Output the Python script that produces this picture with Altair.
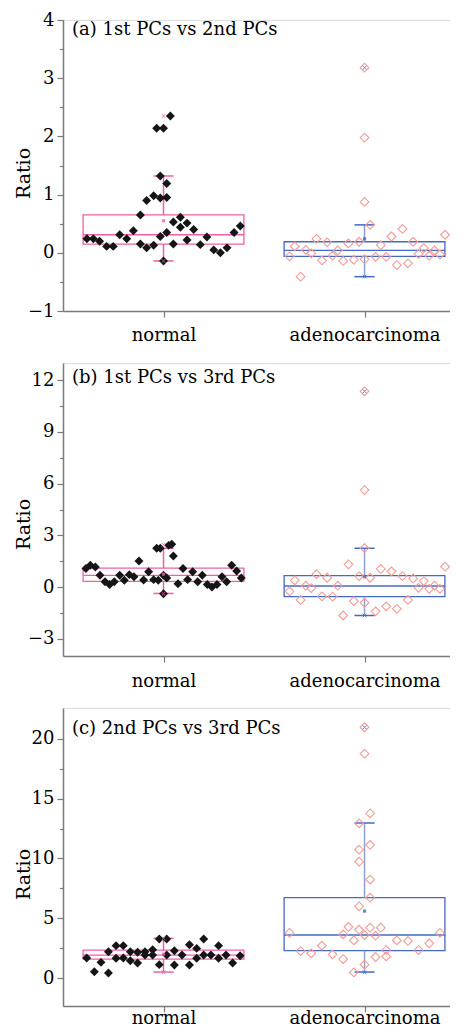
import altair as alt
import pandas as pd

GROUPS = ["normal", "adenocarcinoma"]
PANEL_TITLES = ["(a) 1st PCs vs 2nd PCs", "(b) 1st PCs vs 3rd PCs", "(c) 2nd PCs vs 3rd PCs"]
Y_TITLE = "Ratio"

# ---------- panel (a) ----------
A_NORMAL = [0.24, 0.24, 0.20, 0.11, 0.11, 0.31, 0.24, 0.38, 0.65, 0.15, 0.90, 0.085, 0.98, 0.13,
            2.14, 0.94, 1.32, 0.28, 2.14, -0.14, 0.95, 0.35, 1.19, 2.35, 0.53, 0.15, 0.61, 0.44,
            0.51, 0.22, 0.40, 0.14, 0.27, 0.05, 0.0, 0.085, 0.35, 0.46]
A_NORMAL_JIT = [-0.381, -0.349, -0.318, -0.283, -0.250, -0.218, -0.183, -0.150, -0.115, -0.115,
                -0.084, -0.084, -0.049, -0.049, -0.034, -0.016, -0.016, -0.016, 0.0, 0.0, 0.016,
                0.016, 0.016, 0.034, 0.049, 0.049, 0.084, 0.084, 0.117, 0.117, 0.150, 0.183,
                0.216, 0.250, 0.283, 0.316, 0.351, 0.382]
A_ADENO = [-0.06, 0.11, -0.41, 0.05, -0.01, 0.24, -0.13, 0.18, -0.05, 0.04, -0.14, 0.16, -0.12,
           0.19, 3.18, 1.98, 0.875, -0.11, 0.48, -0.07, 0.13, -0.07, 0.28, -0.21, 0.41, -0.18,
           0.19, -0.02, 0.08, -0.05, 0.04, -0.03, 0.31]
# ---------- panel (b) ----------
B_NORMAL = [1.08, 1.26, 1.16, 0.68, 0.31, 0.15, 0.31, 0.68, 0.39, 0.72, 0.60, 1.51, 0.41, 0.89,
            0.43, 2.25, 0.39, 2.25, 0.68, -0.39, 0.52, 2.42, 2.48, 1.80, 0.19, 1.08, 0.43, 0.89,
            0.31, 0.68, 0.15, 0.0, 0.15, 0.60, 0.31, 1.26, 0.93, 0.52]
B_NORMAL_JIT = [-0.386, -0.364, -0.339, -0.316, -0.291, -0.268, -0.245, -0.218, -0.195, -0.170,
                -0.147, -0.122, -0.099, -0.074, -0.049, -0.034, -0.026, -0.016, 0.0, 0.0, 0.016,
                0.026, 0.041, 0.049, 0.072, 0.097, 0.120, 0.145, 0.170, 0.193, 0.218, 0.241,
                0.266, 0.291, 0.314, 0.339, 0.364, 0.387]
B_ADENO = [-0.25, 0.39, -0.75, 0.08, -0.06, 0.75, -0.54, 0.54, -0.56, 0.08, -1.65, 1.32, -0.81,
           0.64, 11.36, 5.63, 2.26, -0.91, 0.54, -1.41, 1.05, -1.12, 0.91, -1.26, 0.64, -0.75,
           0.50, -0.04, 0.35, -0.10, 0.08, -0.10, 1.18]
AB_ADENO_JIT = [-0.373, -0.347, -0.318, -0.292, -0.265, -0.239, -0.212, -0.186, -0.159, -0.133,
                -0.106, -0.080, -0.053, -0.027, 0.0, 0.0, 0.0, 0.0, 0.028, 0.055, 0.081, 0.108,
                0.134, 0.161, 0.189, 0.216, 0.242, 0.269, 0.295, 0.322, 0.348, 0.375, 0.401]
# ---------- panel (c) ----------
C_NORMAL = [1.67, 0.53, 1.31, 0.42, 2.20, 2.71, 1.65, 2.71, 1.67, 2.20, 1.45, 2.15, 1.26, 2.20,
            1.92, 2.37, 1.92, 3.26, 1.12, 3.26, 1.92, 2.29, 1.09, 1.92, 2.79, 1.09, 2.48, 1.65,
            3.26, 1.92, 1.92, 2.71, 1.65, 1.92, 1.26, 1.87]
C_NORMAL_JIT = [-0.382, -0.344, -0.311, -0.274, -0.274, -0.236, -0.236, -0.200, -0.200, -0.165,
                -0.165, -0.129, -0.129, -0.092, -0.092, -0.054, -0.054, -0.021, -0.021, 0.016,
                0.016, 0.054, 0.054, 0.092, 0.129, 0.129, 0.165, 0.165, 0.200, 0.200, 0.236,
                0.274, 0.274, 0.311, 0.344, 0.381]
C_ADENO = [3.77, 2.26, 2.06, 2.71, 1.98, 1.59, 3.65, 4.27, 3.15, 0.47, 12.94, 10.74, 9.73, 6.0,
           4.04, 20.98, 18.77, 3.60, 1.12, 13.78, 11.13, 8.23, 6.72, 4.21, 3.54, 1.76, 4.21,
           2.34, 1.81, 3.15, 3.10, 2.34, 2.90, 3.77]
C_ADENO_JIT = [-0.373, -0.318, -0.265, -0.212, -0.159, -0.106, -0.106, -0.080, -0.053, -0.053,
               -0.027, -0.027, -0.027, -0.027, -0.027, 0.0, 0.0, 0.0, 0.0, 0.028, 0.028, 0.028,
               0.028, 0.028, 0.055, 0.055, 0.081, 0.108, 0.108, 0.161, 0.216, 0.269, 0.322, 0.375]

# ---------- box statistics: [normal, adenocarcinoma] ----------
A_Q1, A_MED, A_Q3 = [0.15, -0.06], [0.31, 0.04], [0.65, 0.19]
A_WLO, A_WHI, A_MEAN = [-0.14, -0.41], [1.32, 0.48], [0.55, 0.24]
A_MIN, A_MAX = [-0.14, -0.41], [2.35, 3.18]

B_Q1, B_MED, B_Q3 = [0.33, -0.56], [0.68, 0.06], [1.10, 0.66]
B_WLO, B_WHI, B_MEAN = [-0.37, -1.65], [2.25, 2.25], [0.75, 0.60]
B_MIN, B_MAX = [-0.39, -1.65], [2.45, 11.36]

C_Q1, C_MED, C_Q3 = [1.58, 2.29], [1.92, 3.60], [2.33, 6.72]
C_WLO, C_WHI, C_MEAN = [0.50, 0.50], [3.32, 12.97], [2.00, 5.60]
C_MIN, C_MAX = [0.47, 0.47], [3.32, 20.98]

# ---------- axes ----------
A_YTICKS = [-1, -0.5, 0, 0.5, 1, 1.5, 2, 2.5, 3, 3.5, 4]
B_YTICKS = [-3, -1.5, 0, 1.5, 3, 4.5, 6, 7.5, 9, 10.5, 12]
C_YTICKS = [0, 2.5, 5, 7.5, 10, 12.5, 15, 17.5, 20]

PINK = "#EF5FA7"
BLUE = "#4668C5"
BLUE_LIGHT = "#8C9FDB"
SALMON = "#F29C95"
GRAY = "#7A7A7A"
FONT = "DejaVu Serif"
W = 398
X_DOMAIN = [-0.5, 1.48]


def panel(title, normal, normal_jit, adeno, adeno_jit, q1, med, q3, wlo, whi, mean, mn, mx,
          y_domain, y_ticks, major, height, label_pad, title_y, text_y):
    pts = pd.DataFrame({
        "group": [GROUPS[0]] * len(normal) + [GROUPS[1]] * len(adeno),
        "pos": [0] * len(normal) + [1] * len(adeno),
        "jit": list(normal_jit) + list(adeno_jit),
        "y": list(normal) + list(adeno),
    })
    box = pd.DataFrame({"group": GROUPS, "pos": [0, 1], "q1": q1, "med": med, "q3": q3,
                        "wlo": wlo, "whi": whi, "mean": mean, "mn": mn, "mx": mx})

    xscale = alt.Scale(domain=X_DOMAIN, nice=False, zero=False)
    xaxis = alt.Axis(values=[0, 1], title=None, grid=False,
                     labelExpr="['%s','%s'][datum.value]" % (GROUPS[0], GROUPS[1]),
                     labelFont=FONT, labelFontSize=18, labelColor="black", labelPadding=label_pad,
                     labelFlush=False, labelOverlap=False,
                     tickSize=6, tickColor=GRAY, tickWidth=1.2,
                     domainColor=GRAY, domainWidth=1.5)
    yscale = alt.Scale(domain=y_domain, nice=False, zero=False)
    yaxis = alt.Axis(values=y_ticks, title=Y_TITLE, grid=False, format="~g",
                     labelExpr="datum.value %% %s === 0 ? datum.label : ''" % major,
                     labelFont=FONT, labelFontSize=18, labelColor="black", labelPadding=3,
                     labelOverlap=False, labelFlush=False,
                     tickSize={"condition": {"test": "datum.value %% %s === 0" % major, "value": 6},
                               "value": 3.5},
                     tickColor=GRAY, tickWidth=1.2, domainColor=GRAY, domainWidth=1.5,
                     titleFont=FONT, titleFontSize=19, titleFontWeight="normal", titleColor="black",
                     titleAngle=270, titleX=-40, titleY=title_y, titleAlign="center",
                     titleBaseline="middle")

    def X(field):
        return alt.X(field, type="quantitative", scale=xscale, axis=xaxis)

    def Y(field):
        return alt.Y(field, type="quantitative", scale=yscale, axis=yaxis)

    grp_color = alt.condition("datum.group === '%s'" % GROUPS[0], alt.value(PINK), alt.value(BLUE))
    whisk_color = alt.condition("datum.group === '%s'" % GROUPS[0], alt.value(PINK),
                                alt.value(BLUE_LIGHT))

    b = alt.Chart(box).transform_calculate(
        xl="datum.pos - 0.4", xr="datum.pos + 0.4",
        cl="datum.pos - 0.05", cr="datum.pos + 0.05")

    rect = b.mark_rect(filled=False, strokeWidth=1.3).encode(
        x=X("xl"), x2="xr", y=Y("q1"), y2="q3", color=grp_color)
    median = b.mark_rule(strokeWidth=1.3).encode(x=X("xl"), x2="xr", y=Y("med"), color=grp_color)
    w_low = b.mark_rule(strokeWidth=1.5).encode(x=X("pos"), y=Y("wlo"), y2="q1", color=whisk_color)
    w_high = b.mark_rule(strokeWidth=1.5).encode(x=X("pos"), y=Y("q3"), y2="whi", color=whisk_color)
    cap_low = b.mark_rule(strokeWidth=1.5).encode(x=X("cl"), x2="cr", y=Y("wlo"), color=grp_color)
    cap_high = b.mark_rule(strokeWidth=1.5).encode(x=X("cl"), x2="cr", y=Y("whi"), color=grp_color)

    p = alt.Chart(pts).transform_calculate(xp="datum.pos + datum.jit")
    normal_pts = p.transform_filter("datum.pos === 0").mark_point(
        shape="diamond", filled=True, size=80, color="#151515", opacity=1).encode(
        x=X("xp"), y=Y("y"))
    adeno_pts = p.transform_filter("datum.pos === 1").mark_point(
        shape="diamond", filled=False, size=76, color=SALMON, strokeWidth=1.1, opacity=1).encode(
        x=X("xp"), y=Y("y"))

    mean_pt = b.mark_point(shape="square", filled=True, size=10, opacity=0.8).encode(
        x=X("pos"), y=Y("mean"), color=grp_color)
    xshape = "M-1,-1L1,1M-1,1L1,-1"
    max_pt = b.mark_point(shape=xshape, filled=False, size=14, strokeWidth=1, opacity=0.8).encode(
        x=X("pos"), y=Y("mx"), color=grp_color)
    min_pt = b.mark_point(shape=xshape, filled=False, size=14, strokeWidth=1, opacity=0.8).encode(
        x=X("pos"), y=Y("mn"), color=grp_color)

    label = alt.Chart(pd.DataFrame({"t": [title]})).mark_text(
        align="left", baseline="alphabetic", font=FONT, fontSize=18, color="black").encode(
        text="t:N", x=alt.value(9), y=alt.value(text_y))

    return alt.layer(rect, median, w_low, w_high, cap_low, cap_high,
                     normal_pts, adeno_pts, mean_pt, max_pt, min_pt, label).properties(
        width=W, height=height)


pa = panel(PANEL_TITLES[0], A_NORMAL, A_NORMAL_JIT, A_ADENO, AB_ADENO_JIT,
           A_Q1, A_MED, A_Q3, A_WLO, A_WHI, A_MEAN, A_MIN, A_MAX,
           [-1, 4], A_YTICKS, 1, 291, 9, 153, 15)
pb = panel(PANEL_TITLES[1], B_NORMAL, B_NORMAL_JIT, B_ADENO, AB_ADENO_JIT,
           B_Q1, B_MED, B_Q3, B_WLO, B_WHI, B_MEAN, B_MIN, B_MAX,
           [-4, 13], B_YTICKS, 3, 293, 10, 161, 20)
pc = panel(PANEL_TITLES[2], C_NORMAL, C_NORMAL_JIT, C_ADENO, C_ADENO_JIT,
           C_Q1, C_MED, C_Q3, C_WLO, C_WHI, C_MEAN, C_MIN, C_MAX,
           [-2.34, 22.59], C_YTICKS, 5, 298, -3, 166, 26)

chart = alt.vconcat(pa, pb, pc, spacing=52, bounds="flush").properties(
    padding={"left": 5, "top": 2, "right": -12, "bottom": 0}
).configure_view(stroke=None).configure(background="white")

chart.save("out.html", embed_options={"renderer": "svg", "actions": False})
